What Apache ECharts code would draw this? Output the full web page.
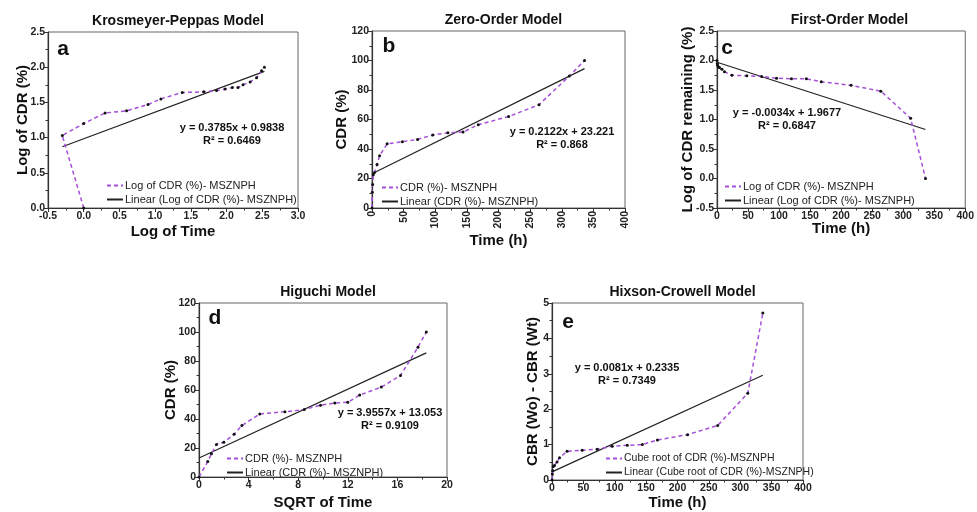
<!DOCTYPE html>
<html><head><meta charset="utf-8">
<script src="https://cdn.jsdelivr.net/npm/echarts@6/dist/echarts.min.js"></script>
<style>html,body{margin:0;padding:0;background:#fff}#c{width:977px;height:512px}</style>
</head><body><div id="c"></div>
<script>
// ---- data ----
var timeH = [0,0.5,1,2,4,8,12,24,48,72,96,120,144,168,216,264,312,336];
var sqrtTime = [0,0.71,1,1.41,2,2.83,3.46,4.90,6.93,8.49,9.80,10.95,12,12.96,14.70,16.25,17.66,18.33];
var logTime = [0,-0.30,0,0.30,0.60,0.90,1.08,1.38,1.68,1.86,1.98,2.08,2.16,2.23,2.33,2.42,2.49,2.53];
var cdr = [0,10.7,16,22.5,24,29.5,35.5,43.5,45,46.5,49.5,51,51.5,56.5,62,70,89.5,100];
var logCdr = [0,1.03,1.20,1.35,1.38,1.47,1.55,1.64,1.65,1.67,1.69,1.71,1.71,1.75,1.79,1.85,1.95,2.00];
var logRemain = [2.00,1.95,1.92,1.89,1.88,1.85,1.81,1.75,1.74,1.73,1.70,1.69,1.69,1.64,1.58,1.48,1.02,0];
var cbrDiff = [0,0.17,0.26,0.38,0.41,0.51,0.63,0.81,0.84,0.87,0.95,0.98,1.00,1.13,1.28,1.54,2.45,4.72];
var trendA = [[-0.30,0.87],[2.53,1.94]];
var trendB = [[0,23.2],[336,94.5]];
var trendC = [[0,1.97],[336,0.83]];
var trendD = [[0,13.1],[18.33,85.6]];
var trendE = [[0,0.23],[336,2.96]];
var titles = ['Krosmeyer-Peppas Model','Zero-Order Model','First-Order Model','Higuchi Model','Hixson-Crowell Model'];
var letters = ['a','b','c','d','e'];
var xNames = ['Log of Time','Time (h)','Time (h)','SQRT of Time','Time (h)'];
var yNames = ['Log of CDR (%)','CDR (%)','Log of CDR remaining (%)','CDR (%)','CBR (Wo) - CBR (Wt)'];
var eqLines = [['y = 0.3785x + 0.9838','R\u00b2 = 0.6469'],['y = 0.2122x + 23.221','R\u00b2 = 0.868'],['y = -0.0034x + 1.9677','R\u00b2 = 0.6847'],['y = 3.9557x + 13.053','R\u00b2 = 0.9109'],['y = 0.0081x + 0.2335','R\u00b2 = 0.7349']];
var dataNames = ['Log of CDR (%)- MSZNPH','CDR (%)- MSZNPH','Log of CDR (%)- MSZNPH','CDR (%)- MSZNPH','Cube root of CDR (%)-MSZNPH'];
var trendNames = ['Linear (Log of CDR (%)- MSZNPH)','Linear (CDR (%)- MSZNPH)','Linear (Log of CDR (%)- MSZNPH)','Linear (CDR (%)- MSZNPH)','Linear (Cube root of CDR (%)-MSZNPH)'];

function zip(a,b){return a.map(function(v,i){return [v,b[i]];});}
var panelX = [logTime, timeH, timeH, sqrtTime, timeH];
var panelY = [logCdr, cdr, logRemain, cdr, cbrDiff];
var trends = [trendA, trendB, trendC, trendD, trendE];

// ---- layout ----
var FF = '"Liberation Sans", Arial, sans-serif';
var purple = '#a64fd9';
var grids = [
  {left:48, top:32, width:250, height:176},
  {left:372, top:31, width:253, height:177},
  {left:717, top:31, width:255, height:177},
  {left:199, top:303, width:248, height:174},
  {left:552, top:303, width:251, height:177}
];
var xr = [[-0.5,3.0,0.5],[0,400,50],[0,400,50],[0,20,4],[0,400,50]];
var yr = [[0,2.5,0.5],[0,120,20],[-0.5,2.5,0.5],[0,120,20],[0,5,1]];
var xDec = [1,0,0,0,0], yDec = [1,0,1,0,0];
var xNameGap = [16,25,13,18,15];
var yNameGap = [18,23,22,21,12];
var legendPos = [[101,175],[376,177],[719,176],[221,448],[600,448]];
var eqPos = [[232,128],[562,132],[787,113],[390,413],[627,368]];
var letterPos = [[63,49],[389,46],[727,48],[215,318],[568,322]];

var option = {animation:false, title:[], grid:[], xAxis:[], yAxis:[], series:[], legend:[], graphic:[]};
grids.forEach(function(g,i){
  option.grid.push({left:g.left, top:g.top, width:g.width, height:g.height, show:true, borderColor:'#666', borderWidth:1});
  option.title.push({text:titles[i], left:g.left+g.width/2, top:g.top-23, textAlign:'center',
    textStyle:{fontFamily:FF, fontSize:14, fontWeight:'bold', color:'#111'}});
  var axCommon = function(r,dec){
    return {gridIndex:i, type:'value', min:r[0], max:r[1], interval:r[2],
      axisLine:{show:true, onZero:false, lineStyle:{color:'#333', width:1.2}},
      axisTick:{show:true, inside:false, length:4, lineStyle:{color:'#333'}},
      minorTick:{show:true, splitNumber:2, length:2.5, lineStyle:{color:'#333'}},
      splitLine:{show:false},
      axisLabel:{fontFamily:FF, fontSize:10.5, fontWeight:'bold', color:'#222', margin:3,
        formatter:function(v){return v.toFixed(dec);}},
      nameLocation:'middle', nameMoveOverlap:false,
      nameTextStyle:{fontFamily:FF, fontSize:15, fontWeight:'bold', color:'#111'}};
  };
  var xa = axCommon(xr[i], xDec[i]);
  xa.name = xNames[i]; xa.nameGap = xNameGap[i];
  if (i===1) { xa.axisLabel.rotate = 90; }
  option.xAxis.push(xa);
  var ya = axCommon(yr[i], yDec[i]);
  ya.name = yNames[i]; ya.nameGap = yNameGap[i];
  option.yAxis.push(ya);
  option.series.push({type:'line', name:dataNames[i], xAxisIndex:i, yAxisIndex:i,
    data:zip(panelX[i], panelY[i]), symbol:'circle', symbolSize:3, showSymbol:true,
    itemStyle:{color:'#111'}, lineStyle:{color:purple, type:[4,3], width:1.5}, z:3});
  option.series.push({type:'line', name:trendNames[i], xAxisIndex:i, yAxisIndex:i,
    data:trends[i], symbol:'none', itemStyle:{color:'#222'}, lineStyle:{color:'#222', width:1.2}, z:2});
  option.legend.push({left:legendPos[i][0], top:legendPos[i][1], orient:'vertical', itemWidth:16, itemHeight:10, itemGap:3,
    data:[dataNames[i], trendNames[i]], selectedMode:false,
    itemStyle:{opacity:0},
    textStyle:{fontFamily:FF, fontSize:(i===4?10.5:11), color:'#222', padding:[0,0,0,-3]}});
  option.graphic.push({type:'text', x:eqPos[i][0], y:eqPos[i][1]-7,
    style:{text:eqLines[i][0]+'\n'+eqLines[i][1], font:'bold 11px '+FF, fill:'#111', align:'center', lineHeight:13}});
  option.graphic.push({type:'text', x:letterPos[i][0], y:letterPos[i][1],
    style:{text:letters[i], font:'bold 21px '+FF, fill:'#111', align:'center', verticalAlign:'middle'}});
});
var chart = echarts.init(document.getElementById('c'), null, {renderer:'canvas'});
chart.setOption(option);
</script></body></html>
